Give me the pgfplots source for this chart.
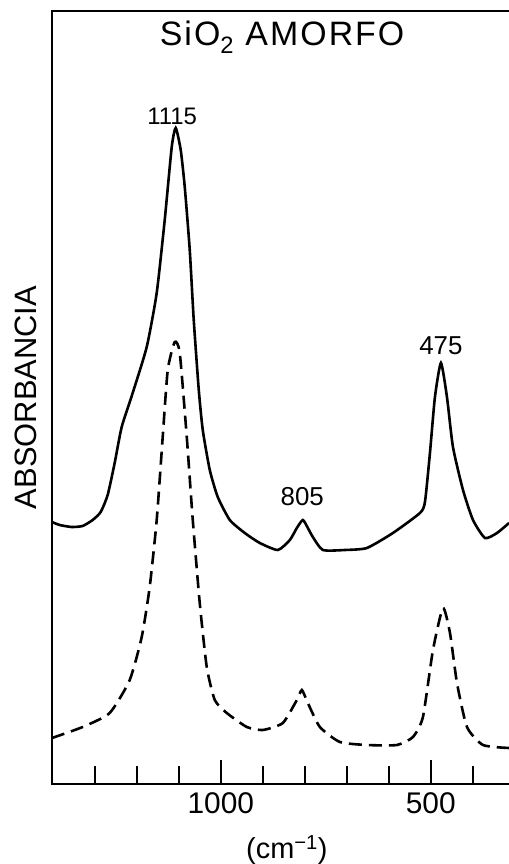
\documentclass[border=0pt]{standalone}
\usepackage{fontspec}
\setmainfont{Liberation Sans}
\usepackage{pgfplots}
\pgfplotsset{compat=1.18}
\begin{document}
\begin{tikzpicture}[x=1bp,y=1bp]
\useasboundingbox (0,0) rectangle (509,864);
\begin{axis}[
  at={(52bp,80bp)}, anchor=south west,
  width=457bp, height=773bp, scale only axis,
  x dir=reverse,
  xmin=313.5, xmax=1402,
  ymin=0, ymax=773,
  axis line style={draw=none},
  clip mode=individual,
  ytick=\empty,
  xtick={1000,500},
  xticklabels={1000,500},
  minor xtick={1300,1200,1100,900,800,700,600,400},
  xtick pos=bottom,
  tick align=inside,
  major tick length=24bp,
  minor tick length=18bp,
  tick style={line width=2.2bp, black},
  xticklabel style={font=\fontsize{30}{32}\selectfont, yshift=-5bp},
  xlabel={(cm\textsuperscript{−1})},
  xlabel style={font=\fontsize{29}{31}\selectfont, at={(axis description cs:0.514,-0.086)}, anchor=center},
  ylabel={ABSORBANCIA},
  ylabel style={font=\fontsize{31}{33}\selectfont, at={(axis description cs:-0.057,0.5)}, anchor=center, rotate=0},
]
\draw[line width=2.6bp] (rel axis cs:1,1) -- (rel axis cs:0,1) -- (rel axis cs:0,0) -- (rel axis cs:1,0);
% solid spectrum
\addplot[line width=2.6bp, black, smooth, tension=0.35] coordinates {
(1402,262) (1383.8,259) (1355.2,257) (1329,258) (1305.1,264) (1286,272)
(1269.4,289) (1252.7,321) (1236,357) (1209.8,391) (1176.4,437) (1152.6,491)
(1133.5,564) (1116.8,637) (1107.3,656) (1095.4,634) (1085.8,597) (1073.9,534)
(1064.4,464) (1052.4,394) (1042.9,354) (1026.2,314) (1007.2,287) (978.5,264)
(942.8,251) (907,241) (864.1,234) (835.5,244) (818.8,256) (804.5,264)
(792.6,256) (780.7,247) (756.9,234) (704.4,234) (652,236) (590,251)
(525.6,271) (513.7,282) (501.8,331) (489.9,387) (475.6,421) (461.3,387)
(447,337) (423.1,294) (399.3,264) (370.7,246) (342.1,251) (313.5,261)
};
% dashed spectrum
\addplot[line width=2.6bp, black, smooth, tension=0.35, dash pattern=on 13bp off 7bp] coordinates {
(1402,46) (1329,57) (1264.6,71) (1216.9,104) (1188.3,147) (1169.3,197)
(1152.6,264) (1138.3,347) (1126.3,414) (1109.7,442) (1097.7,431) (1081,347)
(1066.7,264) (1050.1,181) (1033.4,117) (1014.3,84) (985.7,71) (938,57)
(899.9,54) (852.2,61) (818.8,84) (806.9,94) (792.6,81) (764,57)
(716.3,42) (652,39) (580.5,39) (542.3,47) (518.5,67) (494.6,134)
(470.8,176) (454.1,151) (437.4,101) (413.6,57) (375.5,39) (313.5,36)
};
\node[font=\fontsize{24}{26}\selectfont] at (axis cs:1116,668) {1115};
\node[font=\fontsize{26}{28}\selectfont] at (axis cs:806,287) {805};
\node[font=\fontsize{26}{28}\selectfont] at (axis cs:475.6,438) {475};
\node[font=\fontsize{34}{36}\selectfont\addfontfeature{LetterSpace=6}] at (axis cs:854,747) {SiO\textsubscript{2} AMORFO};
\end{axis}
\end{tikzpicture}
\end{document}
